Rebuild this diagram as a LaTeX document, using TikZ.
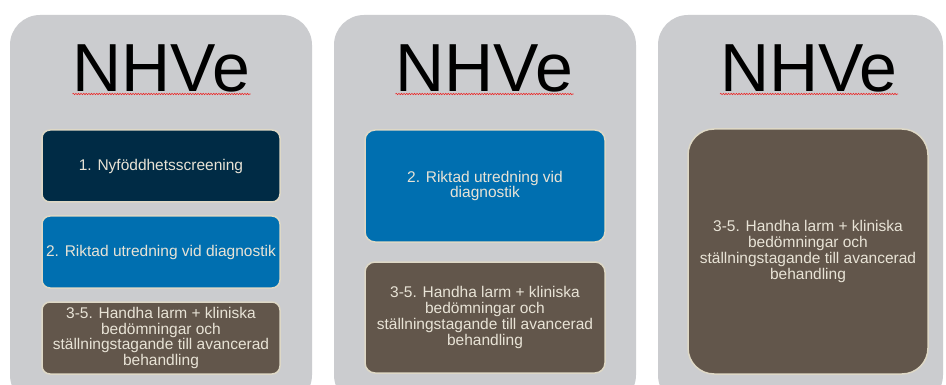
\documentclass[tikz,border=0pt]{standalone}
\usepackage{fontspec}
\setmainfont{Liberation Sans}
\usetikzlibrary{decorations.pathmorphing}
\definecolor{panelgray}{RGB}{203,204,207}
\definecolor{navy}{RGB}{0,43,69}
\definecolor{midblue}{RGB}{0,111,176}
\definecolor{brownbox}{RGB}{98,86,75}
\definecolor{beige}{RGB}{222,216,198}
\definecolor{txt}{RGB}{232,227,214}
\definecolor{squig}{RGB}{235,40,40}
\begin{document}
\begin{tikzpicture}[x=1pt,y=-1pt,
  panel/.style={fill=panelgray, rounded corners=30pt},
  titletext/.style={font=\fontsize{68}{70}\selectfont, text=black, inner sep=0pt, anchor=base},
  stagebox/.style={draw=beige, line width=1.5pt, text=txt, align=center,
    font=\fontsize{15.5}{15.7}\selectfont, inner sep=1pt, rounded corners=#1},
  stagebox/.default=8pt,
  spell/.style={draw=squig, line width=0.6pt, decorate,
    decoration={snake, amplitude=0.7pt, segment length=2.6pt}}]
\useasboundingbox (0,0) rectangle (946,385);
\fill[white] (0,0) rectangle (946,385);
\clip (0,0) rectangle (946,385);
% panels
\fill[panel] (10,15) rectangle (312,405);
\fill[panel] (334,15) rectangle (636,405);
\fill[panel] (658,15) rectangle (943,405);
% titles
\node[titletext] (t1) at (161.5,92) {NHVe};
\node[titletext] (t2) at (484.5,92) {NHVe};
\node[titletext] (t3) at (809,92) {NHVe};
\draw[spell] ([yshift=-2pt]t1.base west) -- ([yshift=-2pt]t1.base east);
\draw[spell] ([yshift=-2pt]t2.base west) -- ([yshift=-2pt]t2.base east);
\draw[spell] ([yshift=-2pt]t3.base west) -- ([yshift=-2pt]t3.base east);
% panel 1
\node[stagebox, fill=navy, minimum width=238pt, minimum height=72pt] (a1) at (161,166) {1. Nyföddhetsscreening};
\node[stagebox, fill=midblue, minimum width=238pt, minimum height=72pt] (a2) at (161,252) {2. Riktad utredning vid diagnostik};
\node[stagebox, fill=brownbox, minimum width=238pt, minimum height=72pt] (a3) at (161,338) {3-5. Handha larm + kliniska\\bedömningar och\\ställningstagande till avancerad\\behandling};
% panel 2
\node[stagebox=10pt, fill=midblue, minimum width=240pt, minimum height=112pt] (b2) at (485,186) {2. Riktad utredning vid\\diagnostik};
\node[stagebox=10pt, fill=brownbox, minimum width=240pt, minimum height=111pt] (b3) at (485,317.5) {3-5. Handha larm + kliniska\\bedömningar och\\ställningstagande till avancerad\\behandling};
% panel 3
\node[stagebox=26pt, fill=brownbox, minimum width=240pt, minimum height=245pt] (c3) at (808,251.5) {3-5. Handha larm + kliniska\\bedömningar och\\ställningstagande till avancerad\\behandling};
\end{tikzpicture}
\end{document}
